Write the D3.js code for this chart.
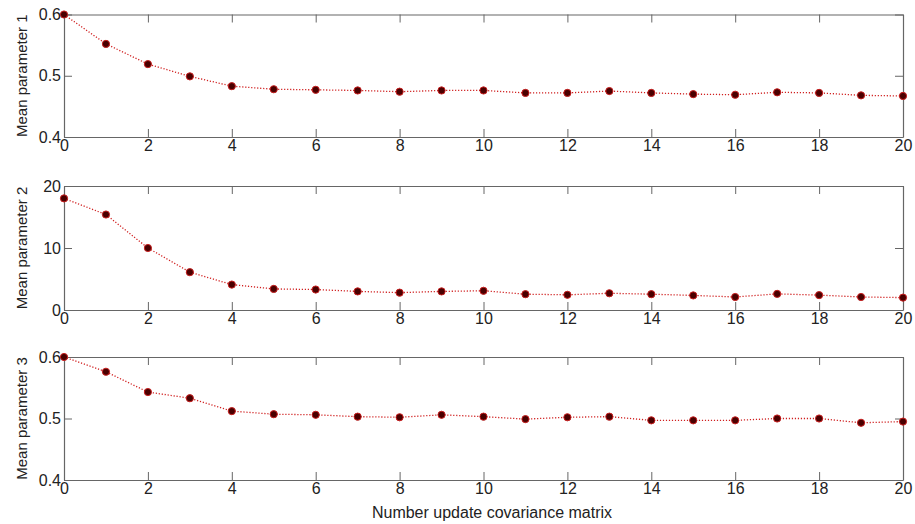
<!DOCTYPE html>
<html>
<head>
<meta charset="utf-8">
<script src="https://cdn.jsdelivr.net/npm/d3@7"></script>
<style>
  body { margin: 0; background: #fff; }
  svg { display: block; font-family: "Liberation Sans", Arial, sans-serif; }
  .axis path, .axis line { stroke: #666; }
  .axis text { fill: #222; font-size: 16px; }
</style>
</head>
<body>
<svg id="chart" width="915" height="524"></svg>
<script>
// --- Data ---
const iterations = d3.range(0, 21);
const param1 = [0.600, 0.552, 0.519, 0.499, 0.483, 0.478, 0.477, 0.476, 0.474, 0.476, 0.476,
                0.472, 0.472, 0.475, 0.472, 0.470, 0.469, 0.473, 0.472, 0.468, 0.467];
const param2 = [18.0, 15.4, 10.0, 6.1, 4.1, 3.4, 3.3, 3.0, 2.8, 3.0, 3.1,
                2.55, 2.45, 2.7, 2.55, 2.35, 2.1, 2.6, 2.4, 2.1, 2.0];
const param3 = [0.600, 0.576, 0.543, 0.533, 0.512, 0.507, 0.506, 0.503, 0.502, 0.506, 0.503,
                0.499, 0.502, 0.503, 0.497, 0.497, 0.497, 0.500, 0.500, 0.493, 0.495];

const xTicks = d3.range(0, 21, 2);
const panels = [
  { label: "Mean parameter 1", values: param1, domain: [0.4, 0.6], ticks: [0.4, 0.5, 0.6], top: 14.5, bottom: 137 },
  { label: "Mean parameter 2", values: param2, domain: [0, 20], ticks: [0, 10, 20], top: 186, bottom: 310 },
  { label: "Mean parameter 3", values: param3, domain: [0.4, 0.6], ticks: [0.4, 0.5, 0.6], top: 357, bottom: 480 }
];
const xTitle = "Number update covariance matrix";

const svg = d3.select("#chart");
const left = 64, right = 903;

const x = d3.scaleLinear().domain([0, 20]).range([left, right]);

panels.forEach(p => {
  const y = d3.scaleLinear().domain(p.domain).range([p.bottom, p.top]);
  const fmt = d => String(d);

  // box + ticks (MATLAB style, ticks pointing inward)
  svg.append("g").attr("class", "axis")
    .attr("transform", `translate(0,${p.bottom})`)
    .call(d3.axisBottom(x).tickValues(xTicks).tickSizeInner(-8).tickSizeOuter(0).tickPadding(3).tickFormat(fmt));
  svg.append("g").attr("class", "axis")
    .attr("transform", `translate(0,${p.top})`)
    .call(d3.axisTop(x).tickValues(xTicks).tickSizeInner(-8).tickSizeOuter(0).tickFormat(""));
  svg.append("g").attr("class", "axis")
    .attr("transform", `translate(${left},0)`)
    .call(d3.axisLeft(y).tickValues(p.ticks).tickSizeInner(-8).tickSizeOuter(0).tickPadding(3).tickFormat(fmt));
  svg.append("g").attr("class", "axis")
    .attr("transform", `translate(${right},0)`)
    .call(d3.axisRight(y).tickValues(p.ticks).tickSizeInner(-8).tickSizeOuter(0).tickFormat(""));

  svg.selectAll(".axis .domain").attr("stroke-width", 1.2);

  // y label
  svg.append("text")
    .attr("transform", `translate(21,${(p.top + p.bottom) / 2}) rotate(-90)`)
    .attr("text-anchor", "middle")
    .attr("dominant-baseline", "central")
    .style("font-size", "15px")
    .attr("fill", "#222")
    .text(p.label);

  // dotted line
  const line = d3.line()
    .x((d, i) => x(iterations[i]))
    .y(d => y(d));

  svg.append("path")
    .datum(p.values)
    .attr("d", line)
    .attr("fill", "none")
    .attr("stroke", "#d02020")
    .attr("stroke-width", 1.3)
    .attr("stroke-dasharray", "1.2,1.8");

  // markers
  svg.append("g")
    .selectAll("circle")
    .data(p.values)
    .join("circle")
    .attr("cx", (d, i) => x(iterations[i]))
    .attr("cy", d => y(d))
    .attr("r", 3.6)
    .attr("fill", "#4a0000")
    .attr("stroke", "#c81e1e")
    .attr("stroke-width", 1);
});

svg.append("text")
  .attr("x", 492)
  .attr("y", 518)
  .attr("text-anchor", "middle")
  .style("font-size", "16px")
  .attr("fill", "#222")
  .text(xTitle);
</script>
</body>
</html>
